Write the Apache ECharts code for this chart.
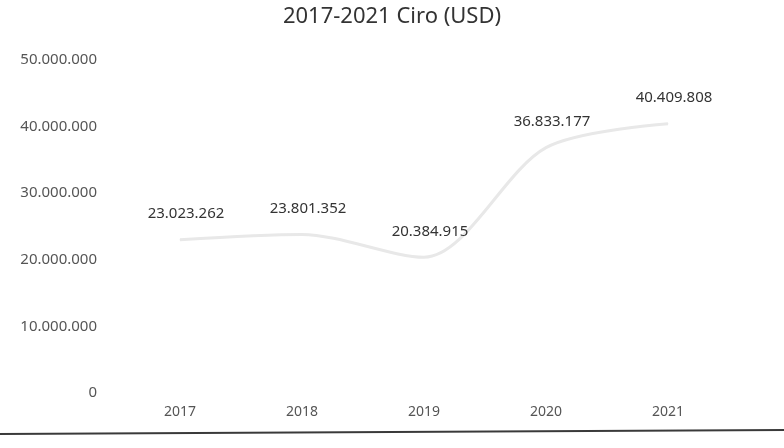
<!DOCTYPE html>
<html>
<head>
<meta charset="utf-8">
<script src="https://cdn.jsdelivr.net/npm/echarts@6/dist/echarts.min.js"></script>
<style>
    html, body { margin: 0; padding: 0; background: #fff; }
    #chart { width: 784px; height: 448px; }
</style>
</head>
<body>
<div id="chart"></div>
<script>
// yıllar ve ciro değerleri
const years = ['2017', '2018', '2019', '2020', '2021']
const revenue = [23023262, 23801352, 20384915, 36833177, 40409808]
const yTicks = [0, 10000000, 20000000, 30000000, 40000000, 50000000]

// 1234567 -> 1.234.567
function dotFormat(v) {
    return String(v).replace(/\B(?=(\d{3})+(?!\d))/g, '.')
}

let mychart = echarts.init(document.getElementById('chart'))

mychart.setOption({
    animation: false,
    textStyle: { fontFamily: 'Noto Sans' },
    title: {
        text: '2017-2021 Ciro (USD)',
        left: 'center',
        top: 1,
        textStyle: { color: '#333', fontSize: 22, fontWeight: 'normal' }
    },
    grid: { left: 119, right: 55, top: 60, bottom: 55 },
    xAxis: {
        type: 'category',
        data: years,
        boundaryGap: true,
        axisLine: { show: false },
        axisTick: { show: false },
        axisLabel: { color: '#555', fontSize: 14, margin: 12 }
    },
    yAxis: {
        type: 'value',
        min: yTicks[0],
        max: yTicks[yTicks.length - 1],
        interval: yTicks[1] - yTicks[0],
        splitLine: { show: false },
        axisLabel: { color: '#555', fontSize: 15, margin: 22, formatter: dotFormat }
    },
    series: [
        {
            type: 'line',
            data: revenue,
            smooth: 0.3,
            symbol: 'circle',
            symbolSize: 1,
            showSymbol: true,
            itemStyle: { color: '#e8e8e8' },
            lineStyle: { color: '#e8e8e8', width: 3 },
            label: {
                show: true,
                position: 'top',
                distance: 14,
                offset: [6, -4],
                color: '#333',
                fontSize: 15,
                formatter: p => dotFormat(p.value)
            }
        }
    ],
    // taranmış sayfanın alt kenarı
    graphic: [
        {
            type: 'line',
            shape: { x1: 0, y1: 434, x2: 784, y2: 430 },
            style: { stroke: '#3a3a3a', lineWidth: 2 }
        }
    ]
})
</script>
</body>
</html>
